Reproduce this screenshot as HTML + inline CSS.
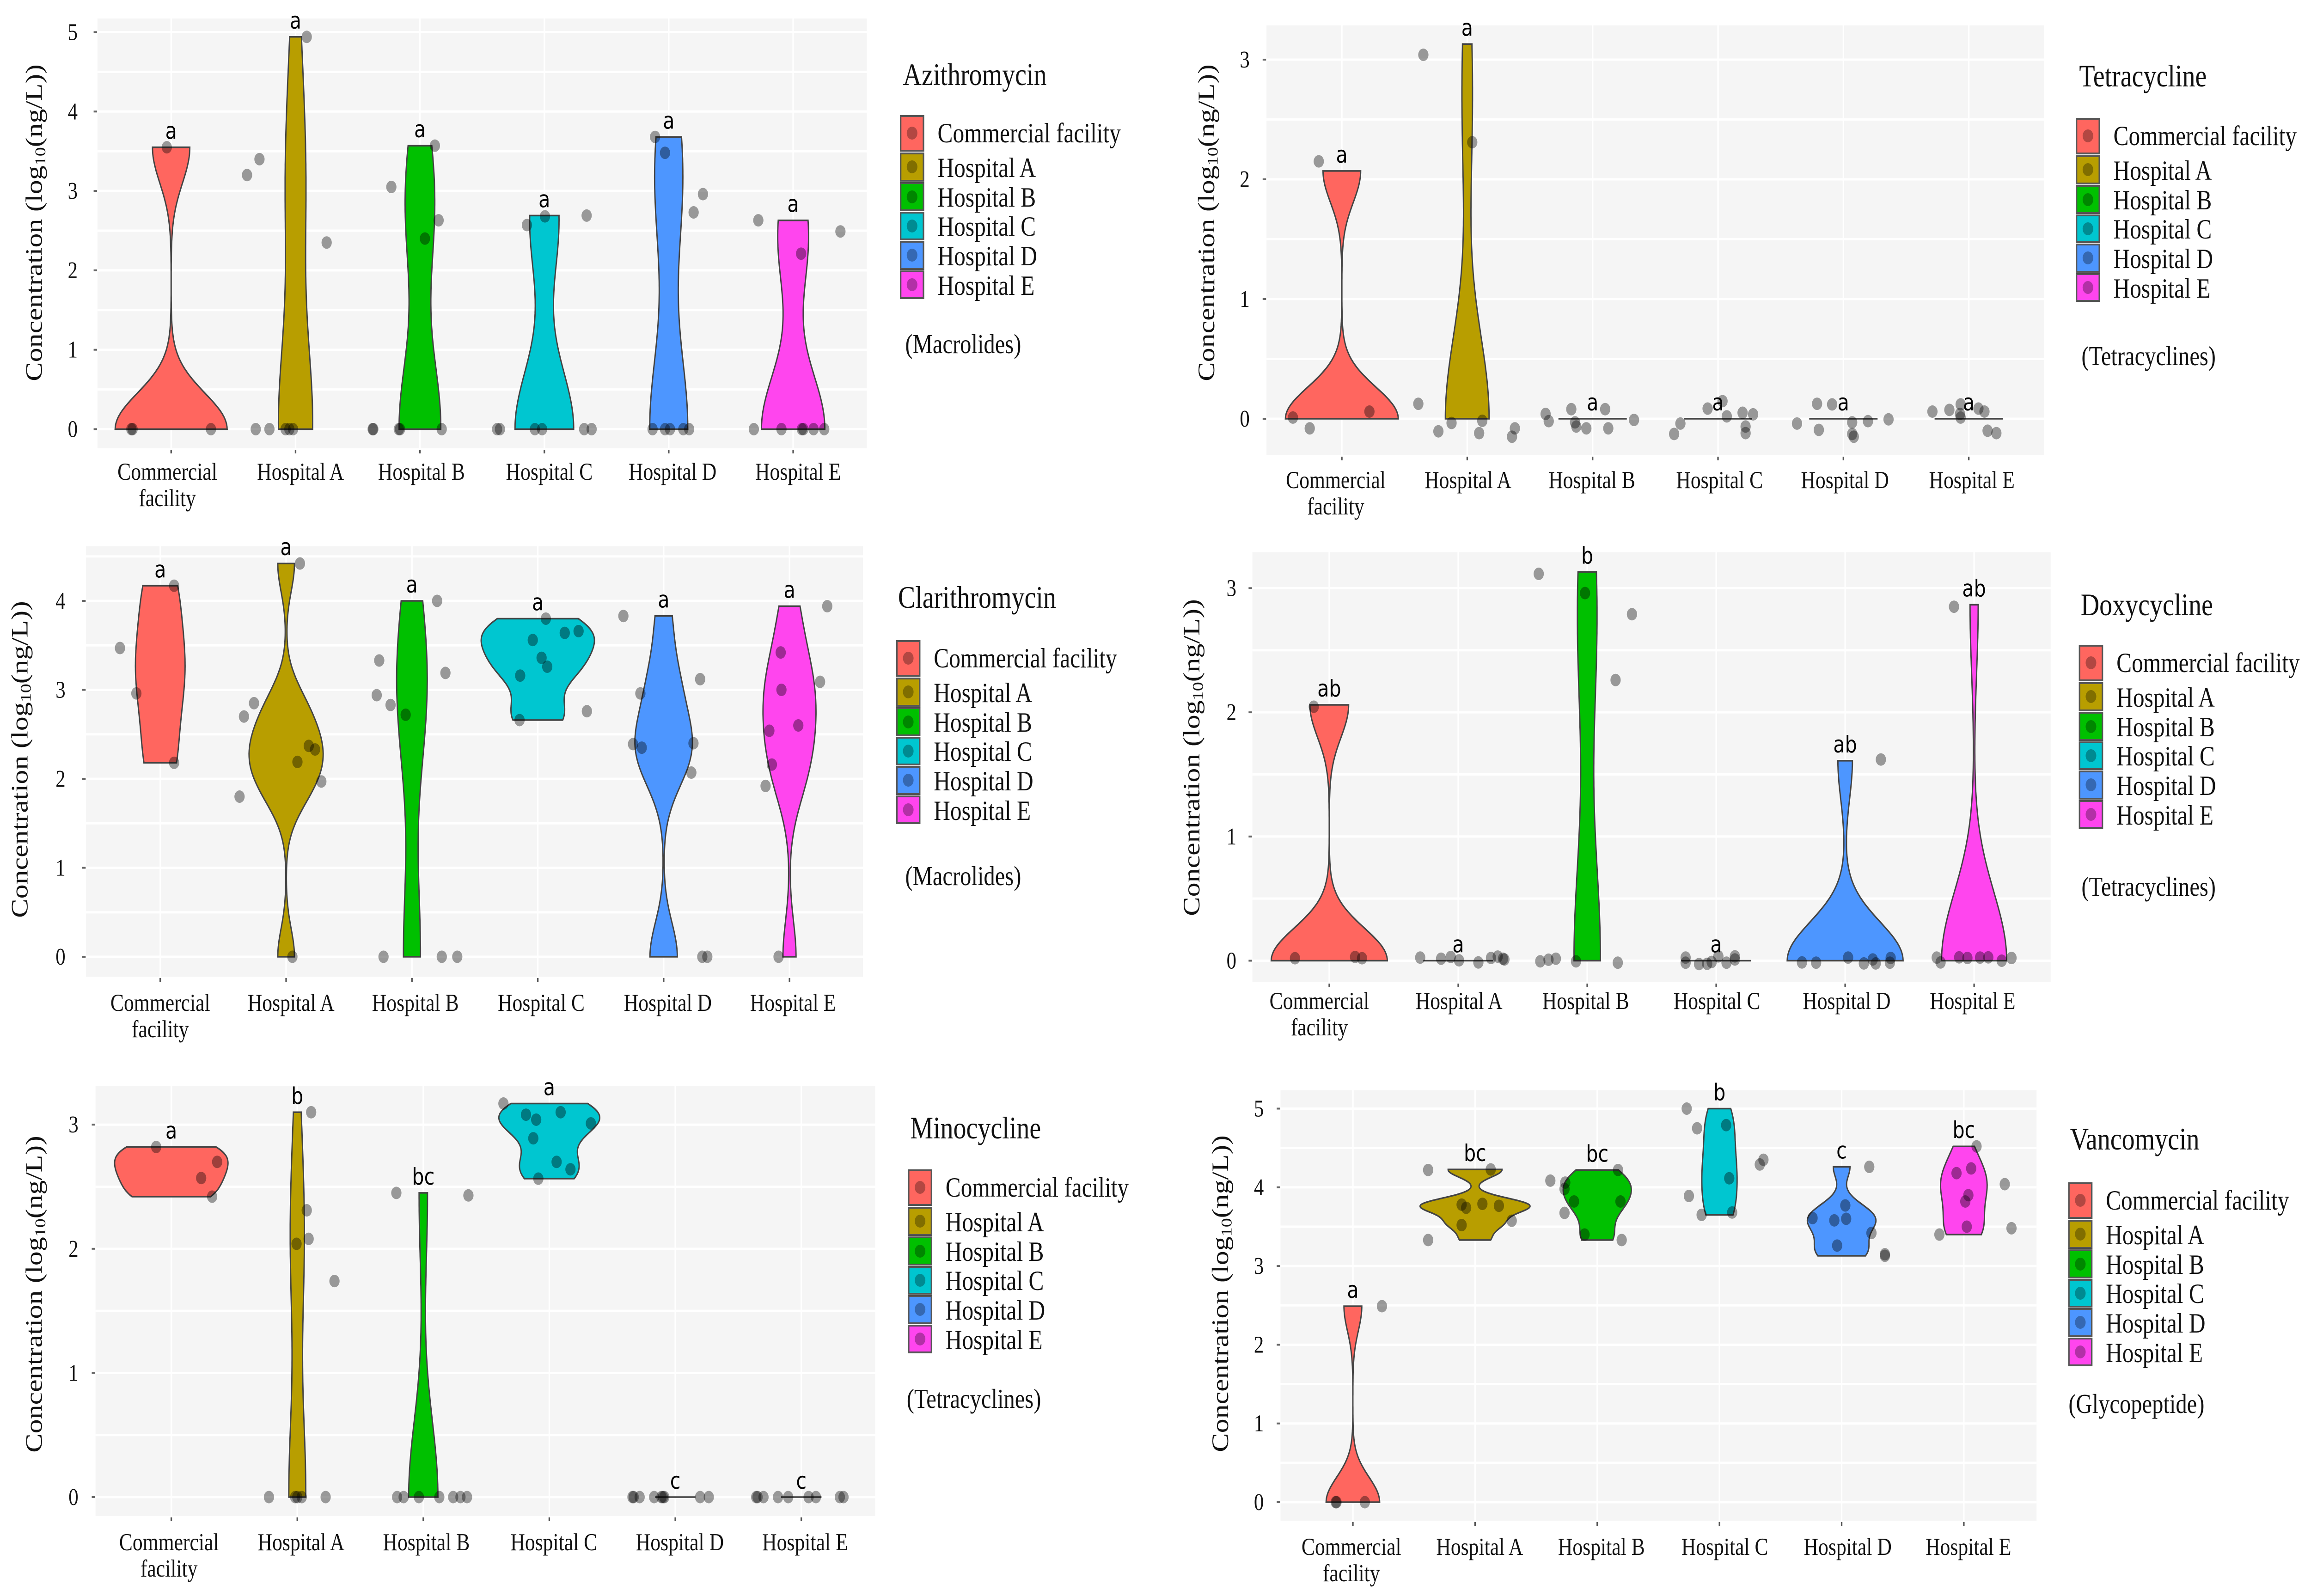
<!DOCTYPE html>
<html lang="en">
<head>
<meta charset="utf-8">
<title>Antibiotic concentration violin plots by facility</title>
<style>
html,body{margin:0;padding:0;background:#fff;width:100%;height:100%;overflow:hidden;}
svg{display:block;width:100vw;height:100vh;}
text{font-family:"Liberation Serif",serif;fill:#111;}
.title{font-size:68px;}
.group{font-size:59px;}
.leg{font-size:60px;}
.ytitle{font-size:62px;}
.tick{font-size:53px;}
.ytick{font-size:52px;text-anchor:middle;}
.letter{font-family:"DejaVu Sans",sans-serif;font-size:50px;text-anchor:middle;fill:#000;}
.key{stroke:#555;stroke-width:4;}
.keydot{fill:#000;fill-opacity:.3;}
</style>
</head>
<body>
<svg id="figure" xmlns="http://www.w3.org/2000/svg" viewBox="0 0 6071 3453" preserveAspectRatio="none">
<rect width="6071" height="3453" fill="#fff"/>

<g id="panel-azithromycin"></g>
<g id="panel-tetracycline"></g>
<g id="panel-clarithromycin"></g>
<g id="panel-doxycycline"></g>
<g id="panel-minocycline"></g>
<g id="panel-vancomycin"></g>

<!-- Y axis titles -->
<text class="ytitle" text-anchor="middle" transform="translate(110,482) rotate(-90)">Concentration (log<tspan font-size="40" dy="9">10</tspan><tspan dy="-9">(ng/L))</tspan></text>
<text class="ytitle" text-anchor="middle" transform="translate(3190,482) rotate(-90)">Concentration (log<tspan font-size="40" dy="9">10</tspan><tspan dy="-9">(ng/L))</tspan></text>
<text class="ytitle" text-anchor="middle" transform="translate(72,1643) rotate(-90)">Concentration (log<tspan font-size="40" dy="9">10</tspan><tspan dy="-9">(ng/L))</tspan></text>
<text class="ytitle" text-anchor="middle" transform="translate(3151,1639) rotate(-90)">Concentration (log<tspan font-size="40" dy="9">10</tspan><tspan dy="-9">(ng/L))</tspan></text>
<text class="ytitle" text-anchor="middle" transform="translate(110,2800) rotate(-90)">Concentration (log<tspan font-size="40" dy="9">10</tspan><tspan dy="-9">(ng/L))</tspan></text>
<text class="ytitle" text-anchor="middle" transform="translate(3226,2799) rotate(-90)">Concentration (log<tspan font-size="40" dy="9">10</tspan><tspan dy="-9">(ng/L))</tspan></text>

<!-- Legends -->
<text class="title" x="2372" y="184">Azithromycin</text>
<text class="group" x="2378" y="764">(Macrolides)</text>
<g transform="translate(2366,251)">
<rect class="key" x="0" y="0" width="60" height="75" fill="#FF665F"/><circle class="keydot" cx="30" cy="37" r="14"/><text class="leg" x="97" y="57">Commercial facility</text>
<rect class="key" x="0" y="81" width="60" height="59" fill="#B89E00"/><circle class="keydot" cx="30" cy="110" r="14"/><text class="leg" x="97" y="132">Hospital A</text>
<rect class="key" x="0" y="145" width="60" height="59" fill="#00C000"/><circle class="keydot" cx="30" cy="175" r="14"/><text class="leg" x="97" y="196">Hospital B</text>
<rect class="key" x="0" y="209" width="60" height="58" fill="#00C6D0"/><circle class="keydot" cx="30" cy="238" r="14"/><text class="leg" x="97" y="259">Hospital C</text>
<rect class="key" x="0" y="272" width="60" height="59" fill="#4D96FF"/><circle class="keydot" cx="30" cy="301" r="14"/><text class="leg" x="97" y="323">Hospital D</text>
<rect class="key" x="0" y="336" width="60" height="58" fill="#FF45EE"/><circle class="keydot" cx="30" cy="365" r="14"/><text class="leg" x="97" y="387">Hospital E</text>
</g>

<text class="title" x="5462" y="187">Tetracycline</text>
<text class="group" x="5468" y="790">(Tetracyclines)</text>
<g transform="translate(5455,257)">
<rect class="key" x="0" y="0" width="60" height="75" fill="#FF665F"/><circle class="keydot" cx="30" cy="37" r="14"/><text class="leg" x="97" y="57">Commercial facility</text>
<rect class="key" x="0" y="81" width="60" height="59" fill="#B89E00"/><circle class="keydot" cx="30" cy="110" r="14"/><text class="leg" x="97" y="132">Hospital A</text>
<rect class="key" x="0" y="145" width="60" height="59" fill="#00C000"/><circle class="keydot" cx="30" cy="175" r="14"/><text class="leg" x="97" y="196">Hospital B</text>
<rect class="key" x="0" y="209" width="60" height="58" fill="#00C6D0"/><circle class="keydot" cx="30" cy="238" r="14"/><text class="leg" x="97" y="259">Hospital C</text>
<rect class="key" x="0" y="272" width="60" height="59" fill="#4D96FF"/><circle class="keydot" cx="30" cy="301" r="14"/><text class="leg" x="97" y="323">Hospital D</text>
<rect class="key" x="0" y="336" width="60" height="58" fill="#FF45EE"/><circle class="keydot" cx="30" cy="365" r="14"/><text class="leg" x="97" y="387">Hospital E</text>
</g>

<text class="title" x="2359" y="1315">Clarithromycin</text>
<text class="group" x="2378" y="1915">(Macrolides)</text>
<g transform="translate(2356,1387)">
<rect class="key" x="0" y="0" width="60" height="75" fill="#FF665F"/><circle class="keydot" cx="30" cy="37" r="14"/><text class="leg" x="97" y="57">Commercial facility</text>
<rect class="key" x="0" y="81" width="60" height="59" fill="#B89E00"/><circle class="keydot" cx="30" cy="110" r="14"/><text class="leg" x="97" y="132">Hospital A</text>
<rect class="key" x="0" y="145" width="60" height="59" fill="#00C000"/><circle class="keydot" cx="30" cy="175" r="14"/><text class="leg" x="97" y="196">Hospital B</text>
<rect class="key" x="0" y="209" width="60" height="58" fill="#00C6D0"/><circle class="keydot" cx="30" cy="238" r="14"/><text class="leg" x="97" y="259">Hospital C</text>
<rect class="key" x="0" y="272" width="60" height="59" fill="#4D96FF"/><circle class="keydot" cx="30" cy="301" r="14"/><text class="leg" x="97" y="323">Hospital D</text>
<rect class="key" x="0" y="336" width="60" height="58" fill="#FF45EE"/><circle class="keydot" cx="30" cy="365" r="14"/><text class="leg" x="97" y="387">Hospital E</text>
</g>

<text class="title" x="5466" y="1331">Doxycycline</text>
<text class="group" x="5468" y="1938">(Tetracyclines)</text>
<g transform="translate(5463,1397)">
<rect class="key" x="0" y="0" width="60" height="75" fill="#FF665F"/><circle class="keydot" cx="30" cy="37" r="14"/><text class="leg" x="97" y="57">Commercial facility</text>
<rect class="key" x="0" y="81" width="60" height="59" fill="#B89E00"/><circle class="keydot" cx="30" cy="110" r="14"/><text class="leg" x="97" y="132">Hospital A</text>
<rect class="key" x="0" y="145" width="60" height="59" fill="#00C000"/><circle class="keydot" cx="30" cy="175" r="14"/><text class="leg" x="97" y="196">Hospital B</text>
<rect class="key" x="0" y="209" width="60" height="58" fill="#00C6D0"/><circle class="keydot" cx="30" cy="238" r="14"/><text class="leg" x="97" y="259">Hospital C</text>
<rect class="key" x="0" y="272" width="60" height="59" fill="#4D96FF"/><circle class="keydot" cx="30" cy="301" r="14"/><text class="leg" x="97" y="323">Hospital D</text>
<rect class="key" x="0" y="336" width="60" height="58" fill="#FF45EE"/><circle class="keydot" cx="30" cy="365" r="14"/><text class="leg" x="97" y="387">Hospital E</text>
</g>

<text class="title" x="2391" y="2463">Minocycline</text>
<text class="group" x="2382" y="3046">(Tetracyclines)</text>
<g transform="translate(2387,2532)">
<rect class="key" x="0" y="0" width="60" height="75" fill="#FF665F"/><circle class="keydot" cx="30" cy="37" r="14"/><text class="leg" x="97" y="57">Commercial facility</text>
<rect class="key" x="0" y="81" width="60" height="59" fill="#B89E00"/><circle class="keydot" cx="30" cy="110" r="14"/><text class="leg" x="97" y="132">Hospital A</text>
<rect class="key" x="0" y="145" width="60" height="59" fill="#00C000"/><circle class="keydot" cx="30" cy="175" r="14"/><text class="leg" x="97" y="196">Hospital B</text>
<rect class="key" x="0" y="209" width="60" height="58" fill="#00C6D0"/><circle class="keydot" cx="30" cy="238" r="14"/><text class="leg" x="97" y="259">Hospital C</text>
<rect class="key" x="0" y="272" width="60" height="59" fill="#4D96FF"/><circle class="keydot" cx="30" cy="301" r="14"/><text class="leg" x="97" y="323">Hospital D</text>
<rect class="key" x="0" y="336" width="60" height="58" fill="#FF45EE"/><circle class="keydot" cx="30" cy="365" r="14"/><text class="leg" x="97" y="387">Hospital E</text>
</g>

<text class="title" x="5438" y="2487">Vancomycin</text>
<text class="group" x="5434" y="3057">(Glycopeptide)</text>
<g transform="translate(5435,2560)">
<rect class="key" x="0" y="0" width="60" height="75" fill="#FF665F"/><circle class="keydot" cx="30" cy="37" r="14"/><text class="leg" x="97" y="57">Commercial facility</text>
<rect class="key" x="0" y="81" width="60" height="59" fill="#B89E00"/><circle class="keydot" cx="30" cy="110" r="14"/><text class="leg" x="97" y="132">Hospital A</text>
<rect class="key" x="0" y="145" width="60" height="59" fill="#00C000"/><circle class="keydot" cx="30" cy="175" r="14"/><text class="leg" x="97" y="196">Hospital B</text>
<rect class="key" x="0" y="209" width="60" height="58" fill="#00C6D0"/><circle class="keydot" cx="30" cy="238" r="14"/><text class="leg" x="97" y="259">Hospital C</text>
<rect class="key" x="0" y="272" width="60" height="59" fill="#4D96FF"/><circle class="keydot" cx="30" cy="301" r="14"/><text class="leg" x="97" y="323">Hospital D</text>
<rect class="key" x="0" y="336" width="60" height="58" fill="#FF45EE"/><circle class="keydot" cx="30" cy="365" r="14"/><text class="leg" x="97" y="387">Hospital E</text>
</g>
</svg>

<script>
// ---------- Shared categories ----------
const categories = ['Commercial facility','Hospital A','Hospital B','Hospital C','Hospital D','Hospital E'];
const tickLabelLines = [['Commercial','facility'],['Hospital A'],['Hospital B'],['Hospital C'],['Hospital D'],['Hospital E']];

// ---------- Azithromycin ----------
const azithromycinValues = [
 [3.55,0,0,0],
 [3.20,3.40,4.94,2.35,0,0,0,0,0],
 [3.05,3.57,2.63,2.40,0,0,0,0,0],
 [2.57,2.68,2.69,0,0,0,0,0,0],
 [3.68,3.48,2.73,2.96,0,0,0,0,0],
 [2.63,2.49,2.21,0,0,0,0,0,0]];
const azithromycinJitterX = [
 [-.035,-.32,-.31,.32],
 [-.39,-.29,.09,.25,-.32,-.21,-.08,-.05,-.02],
 [-.23,.12,.15,.04,-.38,-.375,-.17,-.16,.175],
 [-.14,.005,.34,-.38,-.357,-.076,-.018,.32,.38],
 [-.11,-.03,.2,.275,-.13,-.03,.01,.117,.164],
 [-.28,.38,.064,-.316,-.094,.07,.082,.164,.25]];
const azithromycinLetters = ['a','a','a','a','a','a'];
const azithromycinTicks = [0,1,2,3,4,5];

// ---------- Tetracycline ----------
const tetracyclineValues = [
 [2.07,0,0,0],
 [3.13,2.31,0,0,0,0,0,0,0],
 [0,0,0,0,0,0,0,0,0],
 [0,0,0,0,0,0,0,0,0],
 [0,0,0,0,0,0,0,0,0],
 [0,0,0,0,0,0,0,0,0]];
const tetracyclineJitterX = [
 [-.184,.22,-.39,-.256],
 [-.35,.04,-.39,-.23,-.125,.095,.12,.38,.357],
 [-.375,-.35,-.17,-.14,-.13,-.05,.1,.125,.33],
 [-.35,-.30,-.083,.036,.07,.196,.22,.22,.28],
 [-.37,-.21,-.196,-.09,.07,.07,.083,.196,.36],
 [-.29,-.155,-.065,-.065,.077,.125,.15,.22,-.07]];
const tetracyclineJitterY = [
 [.08,.06,.01,-.08],
 [-.09,0,.125,-.105,-.035,-.12,-.017,-.08,-.15],
 [.04,-.02,.08,-.03,-.065,-.08,.08,-.08,-.01],
 [-.127,-.04,.085,.147,.02,.05,-.065,-.12,.037],
 [-.04,.125,-.093,.12,-.03,-.127,-.15,-.02,-.005],
 [.06,.074,.01,.12,.085,.06,-.1,-.12,.04]];
const tetracyclineLetters = ['a','a','a','a','a','a'];
const tetracyclineTicks = [0,1,2,3];

// ---------- Clarithromycin ----------
const clarithromycinValues = [
 [4.17,3.47,2.96,2.18],
 [4.42,2.85,2.70,2.37,2.33,2.19,1.97,1.80,0],
 [4.0,3.33,3.19,2.94,2.83,2.72,0,0,0],
 [3.80,3.66,3.64,3.56,3.36,3.26,3.16,2.76,2.66],
 [3.83,3.12,2.96,2.39,2.35,2.40,2.07,0,0],
 [3.94,3.42,3.00,3.09,2.60,2.54,2.16,1.92,0]];
const clarithromycinJitterX = [
 [.11,-.32,-.19,.11],
 [.11,-.255,-.335,.18,.23,.09,.28,-.37,.05],
 [.2,-.26,.266,-.28,-.17,-.05,-.226,.237,.36],
 [.064,.324,.214,-.04,.03,.075,-.14,.39,-.145],
 [-.32,.29,-.185,-.243,-.174,.237,.22,.307,.347],
 [.30,-.07,-.064,.243,.07,-.16,-.14,-.19,-.087]];
const clarithromycinLetters = ['a','a','a','a','a','a'];
const clarithromycinTicks = [0,1,2,3,4];

// ---------- Doxycycline ----------
const doxycyclineValues = [
 [2.06,0,0,0],
 [0,0,0,0,0,0,0,0,0],
 [3.13,2.96,2.79,2.26,0,0,0,0,0],
 [0,0,0,0,0,0,0,0,0],
 [1.61,0,0,0,0,0,0,0,0],
 [2.866,0,0,0,0,0,0,0,0]];
const doxycyclineJitterX = [
 [-.12,-.266,.2,.254],
 [-.295,-.133,-.058,.006,.156,.254,.306,.347,.358],
 [-.376,-.017,.347,.22,-.364,-.3,-.243,-.087,.237],
 [-.237,-.237,-.133,-.07,-.035,.017,.08,.145,.145],
 [.277,-.335,-.225,.023,.145,.214,.237,.353,.347],
 [-.156,-.29,-.26,-.116,-.052,.046,.11,.214,.29]];
const doxycyclineJitterY = [
 [-.015,.02,.03,.02],
 [.025,.016,.03,.003,-.014,.022,.033,.016,.01],
 [-.015,0,0,0,-.005,.008,.016,-.005,-.016],
 [.025,-.016,-.027,-.025,-.01,.035,-.016,.035,.01],
 [.01,-.014,-.016,.025,-.022,.01,-.022,.022,-.016],
 [-.016,.025,-.014,.027,.022,.025,.027,0,.022]];
const doxycyclineLetters = ['ab','a','b','a','ab','ab'];
const doxycyclineTicks = [0,1,2,3];

// ---------- Minocycline ----------
const minocyclineValues = [
 [2.82,2.70,2.57,2.42],
 [3.10,2.31,2.08,2.04,1.74,0,0,0,0,0],
 [2.45,2.43,0,0,0,0,0,0,0],
 [3.17,3.10,3.08,3.04,3.01,2.89,2.70,2.64,2.565],
 [0,0,0,0,0,0,0,0,0],
 [0,0,0,0,0,0,0,0,0]];
const minocyclineJitterX = [
 [-.12,.364,.237,.324],
 [.11,.075,.09,-.006,.295,-.225,-.017,0,.035,.225],
 [-.214,.358,-.208,-.156,-.035,.127,.237,.295,.347],
 [-.364,.09,-.185,-.104,.33,-.127,.058,.168,-.087],
 [-.34,-.283,-.168,-.11,-.087,.197,.266,-.098,-.33],
 [-.358,-.347,-.3,-.185,-.104,.058,.116,.306,.335]];
const minocyclineLetters = ['a','b','bc','a','c','c'];
const minocyclineTicks = [0,1,2,3];

// ---------- Vancomycin ----------
const vancomycinValues = [
 [2.49,0,0,0],
 [4.22,4.227,3.78,3.74,3.79,3.765,3.575,3.52,3.33],
 [4.085,4.06,3.98,4.22,3.82,3.82,3.675,3.40,3.33],
 [5.0,4.75,4.79,4.35,4.29,4.115,3.89,3.65,3.68],
 [4.26,3.77,3.61,3.60,3.58,3.42,3.26,3.15,3.13],
 [4.52,4.24,4.18,4.04,3.90,3.82,3.50,3.48,3.40]];
const vancomycinJitterX = [
 [.238,-.134,-.14,.098],
 [-.384,.128,-.11,-.073,.06,.195,.3,-.11,-.384],
 [-.384,-.262,-.268,.17,-.19,.19,-.268,-.104,.2],
 [-.268,-.183,.055,.36,.33,.08,-.25,-.146,.104],
 [.226,.03,-.238,.037,-.06,.244,-.037,.354,.354],
 [.104,.06,-.06,.335,.037,.012,.024,.39,-.2]];
const vancomycinLetters = ['a','bc','bc','b','c','bc'];
const vancomycinTicks = [0,1,2,3,4,5];

// ---------- Styling and panel frames (layout only, no data) ----------
const groupFills = ['#FF665F','#B89E00','#00C000','#00C6D0','#4D96FF','#FF45EE'];
const panelLayouts = [
 {id:'azithromycin',values:azithromycinValues,jx:azithromycinJitterX,jy:null,letters:azithromycinLetters,ticks:azithromycinTicks,
  left:256,right:2277,top:40,bottom:970,firstCat:449.6,catStep:326.8,zeroY:928.5,unitY:171.8,yTickX:191,labelY:1038,labelDx:[-10,13,4,13,10,13]},
 {id:'tetracycline',values:tetracyclineValues,jx:tetracyclineJitterX,jy:tetracyclineJitterY,letters:tetracyclineLetters,ticks:tetracyclineTicks,
  left:3327,right:5370,top:55,bottom:985,firstCat:3525,catStep:329.4,zeroY:906,unitY:259,yTickX:3270,labelY:1056,labelDx:[-16,2,-2,4,4,8]},
 {id:'clarithromycin',values:clarithromycinValues,jx:clarithromycinJitterX,jy:null,letters:clarithromycinLetters,ticks:clarithromycinTicks,
  left:226,right:2267,top:1182,bottom:2113,firstCat:421,catStep:330.6,zeroY:2070,unitY:192.5,yTickX:159,labelY:2187,labelDx:[0,13,9,9,11,9]},
 {id:'doxycycline',values:doxycyclineValues,jx:doxycyclineJitterX,jy:doxycyclineJitterY,letters:doxycyclineLetters,ticks:doxycyclineTicks,
  left:3290,right:5387,top:1195,bottom:2125,firstCat:3492,catStep:338.8,zeroY:2078.5,unitY:268.7,yTickX:3235,labelY:2183,labelDx:[-26,2,-4,2,4,-4]},
 {id:'minocycline',values:minocyclineValues,jx:minocyclineJitterX,jy:null,letters:minocyclineLetters,ticks:minocyclineTicks,
  left:251,right:2299,top:2349,bottom:3280,firstCat:450,catStep:331,zeroY:3239,unitY:268.6,yTickX:193,labelY:3354,labelDx:[-6,10,8,12,12,10]},
 {id:'vancomycin',values:vancomycinValues,jx:vancomycinJitterX,jy:null,letters:vancomycinLetters,ticks:vancomycinTicks,
  left:3364,right:5350,top:2359,bottom:3290,firstCat:3554,catStep:321,zeroY:3250,unitY:170.3,yTickX:3307,labelY:3364,labelDx:[-4,12,11,14,16,12]}
];

const SVGNS = 'http://www.w3.org/2000/svg';

function quantile(sorted, p){
  const h = (sorted.length - 1) * p;
  const lo = Math.floor(h);
  const hi = Math.ceil(h);
  return sorted[lo] + (sorted[hi] - sorted[lo]) * (h - lo);
}
function bandwidth(vals){
  const n = vals.length;
  const mean = vals.reduce((a, b) => a + b, 0) / n;
  const sd = Math.sqrt(vals.reduce((a, b) => a + (b - mean) * (b - mean), 0) / (n - 1));
  const sorted = vals.slice().sort((a, b) => a - b);
  const iqr = quantile(sorted, .75) - quantile(sorted, .25);
  let lo = Math.min(sd, iqr / 1.34);
  if (!lo) lo = sd;
  if (!lo) lo = Math.abs(vals[0]);
  if (!lo) lo = 1;
  return 0.9 * lo * Math.pow(n, -0.2);
}
function densityAt(vals, bw, y){
  let s = 0;
  for (const v of vals) { const z = (y - v) / bw; s += Math.exp(-0.5 * z * z); }
  return s / (vals.length * bw * Math.sqrt(2 * Math.PI));
}
function densityProfile(vals){
  const bw = bandwidth(vals);
  const lo = Math.min(...vals);
  const hi = Math.max(...vals);
  const out = [];
  const steps = hi > lo ? 120 : 0;
  for (let i = 0; i <= steps; i++) {
    const y = steps ? lo + (hi - lo) * i / steps : lo;
    out.push([y, densityAt(vals, bw, y)]);
  }
  return out;
}

function drawPanel(p){
  const root = document.getElementById('panel-' + p.id);
  const xOf = i => p.firstCat + i * p.catStep;
  const yOf = v => p.zeroY - v * p.unitY;

  const bg = document.createElementNS(SVGNS, 'rect');
  
  
  bg.setAttribute('x', p.left);
  bg.setAttribute('y', p.top);
  bg.setAttribute('width', p.right - p.left);
  bg.setAttribute('height', p.bottom - p.top);
  bg.setAttribute('fill', '#F5F5F5');
  root.appendChild(bg);

  // horizontal gridlines at half units inside the panel
  const kMin = Math.ceil((p.zeroY - p.bottom) / p.unitY * 2);
  const kMax = Math.floor((p.zeroY - p.top) / p.unitY * 2);
  for (let k = kMin; k <= kMax; k++) {
    const gl = document.createElementNS(SVGNS, 'line');
    
    
    gl.setAttribute('x1', p.left);
    gl.setAttribute('x2', p.right);
    gl.setAttribute('y1', yOf(k / 2));
    gl.setAttribute('y2', yOf(k / 2));
    gl.setAttribute('stroke', '#fff');
    gl.setAttribute('stroke-width', 5);
    root.appendChild(gl);
  }

  // y ticks
  p.ticks.forEach(t => {
    const tk = document.createElementNS(SVGNS, 'line');
    
    
    tk.setAttribute('x1', p.left - 10);
    tk.setAttribute('x2', p.left - 1);
    tk.setAttribute('y1', yOf(t));
    tk.setAttribute('y2', yOf(t));
    tk.setAttribute('stroke', '#666');
    tk.setAttribute('stroke-width', 4);
    root.appendChild(tk);

    const lb = document.createElementNS(SVGNS, 'text');
    
    
    lb.setAttribute('class', 'ytick');
    lb.setAttribute('x', p.yTickX);
    lb.setAttribute('y', yOf(t) + 17);
    lb.textContent = t;
    root.appendChild(lb);
  });

  // vertical gridlines, x ticks, x labels
  categories.forEach((c, i) => {
    const vg = document.createElementNS(SVGNS, 'line');
    
    
    vg.setAttribute('x1', xOf(i));
    vg.setAttribute('x2', xOf(i));
    vg.setAttribute('y1', p.top);
    vg.setAttribute('y2', p.bottom);
    vg.setAttribute('stroke', '#fff');
    vg.setAttribute('stroke-width', 4);
    root.appendChild(vg);

    const xt = document.createElementNS(SVGNS, 'line');
    
    
    xt.setAttribute('x1', xOf(i));
    xt.setAttribute('x2', xOf(i));
    xt.setAttribute('y1', p.bottom + 3);
    xt.setAttribute('y2', p.bottom + 11);
    xt.setAttribute('stroke', '#555');
    xt.setAttribute('stroke-width', 4);
    root.appendChild(xt);

    tickLabelLines[i].forEach((line, j) => {
      const xl = document.createElementNS(SVGNS, 'text');
      
      
      xl.setAttribute('class', 'tick');
      xl.setAttribute('text-anchor', 'middle');
      xl.setAttribute('x', xOf(i) + p.labelDx[i]);
      xl.setAttribute('y', p.labelY + j * 57);
      xl.textContent = line;
      root.appendChild(xl);
    });
  });

  // violins: Gaussian kernel density of each group, scaled by panel-wide maximum
  const profiles = p.values.map(densityProfile);
  let maxD = 0;
  profiles.forEach(pr => pr.forEach(d => { if (d[1] > maxD) maxD = d[1]; }));
  const halfW = 0.45 * p.catStep;

  p.values.forEach((vals, i) => {
    const cx = xOf(i);
    const pr = profiles[i];
    const leftSide = pr.map(d => [cx - d[1] / maxD * halfW, yOf(d[0])]);
    const rightSide = pr.slice().reverse().map(d => [cx + d[1] / maxD * halfW, yOf(d[0])]);
    const pts = leftSide.concat(rightSide);
    const vp = document.createElementNS(SVGNS, 'path');
    
    
    vp.setAttribute('d', 'M' + pts.map(q => q[0].toFixed(1) + ' ' + q[1].toFixed(1)).join('L') + 'Z');
    vp.setAttribute('fill', groupFills[i]);
    vp.setAttribute('stroke', '#444');
    vp.setAttribute('stroke-width', 3.5);
    vp.setAttribute('stroke-linejoin', 'miter');
    root.appendChild(vp);
  });

  // jittered sample points
  p.values.forEach((vals, i) => {
    vals.forEach((v, j) => {
      const jy = p.jy ? p.jy[i][j] : 0;
      const dot = document.createElementNS(SVGNS, 'circle');
      
      
      dot.setAttribute('cx', xOf(i) + p.jx[i][j] * p.catStep);
      dot.setAttribute('cy', yOf(v + jy));
      dot.setAttribute('r', 13.5);
      dot.setAttribute('fill', '#000');
      dot.setAttribute('fill-opacity', '0.38');
      root.appendChild(dot);
    });
  });

  // significance letters
  p.letters.forEach((s, i) => {
    const top = Math.max(...p.values[i]);
    const tx = document.createElementNS(SVGNS, 'text');
    
    
    tx.setAttribute('class', 'letter');
    tx.setAttribute('x', xOf(i));
    tx.setAttribute('y', yOf(top) - 18);
    tx.textContent = s;
    root.appendChild(tx);
  });
}

panelLayouts.forEach(drawPanel);
</script>
</body>
</html>
